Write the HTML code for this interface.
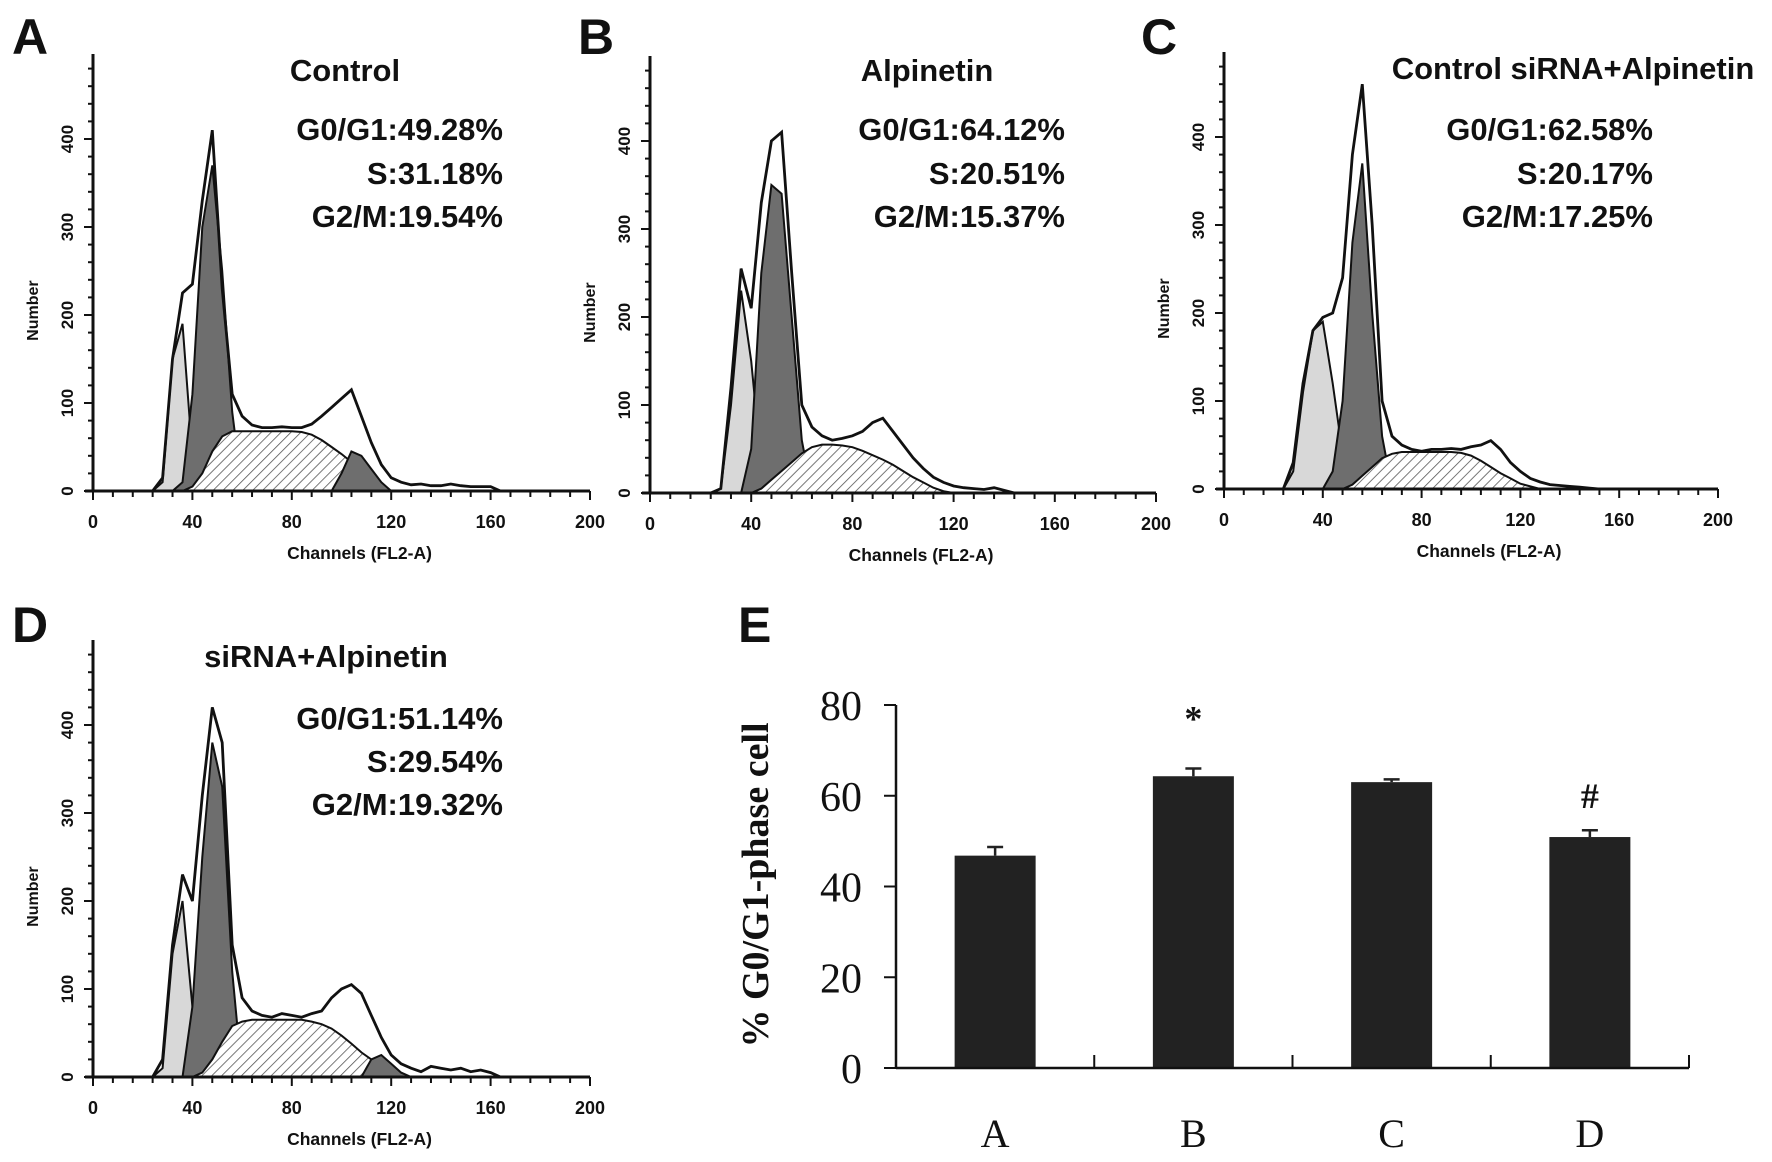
<!DOCTYPE html>
<html><head><meta charset="utf-8">
<style>
html,body{margin:0;padding:0;background:#fff;}
svg{display:block;}
.hb{font-family:"Liberation Sans",sans-serif;font-weight:bold;fill:#111;}
.sf{font-family:"Liberation Serif",serif;fill:#111;}
</style></head>
<body>
<svg id="fig" width="1772" height="1162" viewBox="0 0 1772 1162" xmlns="http://www.w3.org/2000/svg">
<defs>
<pattern id="hatch" patternUnits="userSpaceOnUse" width="7" height="7" patternTransform="rotate(45)">
<rect width="7" height="7" fill="#fff"/><line x1="0" y1="0" x2="0" y2="7" stroke="#555" stroke-width="1.6"/>
</pattern>
</defs>
</svg>
<script>
// ---------- histogram data (channels 20..168 step 4) ----------
const channels = [];
for (let c = 20; c <= 168; c += 4) channels.push(c);
const xTicks = [0, 40, 80, 120, 160, 200];
const yTicks = [0, 100, 200, 300, 400];

const outlineA = [0,0,15,150,225,235,330,410,230,110,85,75,72,72,73,72,72,76,85,95,105,115,85,55,30,15,10,7,8,6,6,8,6,5,5,5,0,0];
const subA = [0,0,10,150,190,40,0,0,0,0,0,0,0,0,0,0,0,0,0,0,0,0,0,0,0,0,0,0,0,0,0,0,0,0,0,0,0,0];
const g1A = [0,0,0,0,10,110,300,370,250,90,0,0,0,0,0,0,0,0,0,0,0,0,0,0,0,0,0,0,0,0,0,0,0,0,0,0,0,0];
const sA = [0,0,0,0,0,5,20,45,62,68,68,68,68,68,68,68,67,64,58,50,42,33,24,15,7,0,0,0,0,0,0,0,0,0,0,0,0,0];
const g2A = [0,0,0,0,0,0,0,0,0,0,0,0,0,0,0,0,0,0,0,0,20,45,40,25,10,0,0,0,0,0,0,0,0,0,0,0,0,0];

const outlineB = [0,0,5,120,255,210,330,400,410,250,100,75,65,60,62,65,70,80,85,70,55,40,28,18,12,8,6,5,4,6,3,0,0,0,0,0,0,0];
const subB = [0,0,5,100,230,150,30,0,0,0,0,0,0,0,0,0,0,0,0,0,0,0,0,0,0,0,0,0,0,0,0,0,0,0,0,0,0,0];
const g1B = [0,0,0,0,0,50,250,350,340,200,60,0,0,0,0,0,0,0,0,0,0,0,0,0,0,0,0,0,0,0,0,0,0,0,0,0,0,0];
const sB = [0,0,0,0,0,0,5,15,25,35,45,52,55,55,54,52,48,43,38,32,25,18,12,6,2,0,0,0,0,0,0,0,0,0,0,0,0,0];
const g2B = [0,0,0,0,0,0,0,0,0,0,0,0,0,0,0,0,0,0,0,0,0,0,0,0,0,0,0,0,0,0,0,0,0,0,0,0,0,0];

const outlineC = [0,0,30,120,180,195,200,240,380,460,300,100,60,50,45,43,45,45,46,45,48,50,55,45,30,20,12,8,5,4,3,2,1,0,0,0,0,0];
const subC = [0,0,20,110,180,190,120,40,5,0,0,0,0,0,0,0,0,0,0,0,0,0,0,0,0,0,0,0,0,0,0,0,0,0,0,0,0,0];
const g1C = [0,0,0,0,0,0,20,100,280,370,200,60,0,0,0,0,0,0,0,0,0,0,0,0,0,0,0,0,0,0,0,0,0,0,0,0,0,0];
const sC = [0,0,0,0,0,0,0,0,5,15,25,35,40,42,42,42,42,42,42,41,38,32,25,18,12,6,3,0,0,0,0,0,0,0,0,0,0,0];
const g2C = [0,0,0,0,0,0,0,0,0,0,0,0,0,0,0,0,0,0,0,0,0,0,0,0,0,0,0,0,0,0,0,0,0,0,0,0,0,0];

const outlineD = [0,0,20,150,230,200,320,420,380,150,90,75,70,68,72,70,68,72,75,90,100,105,95,70,45,25,15,10,6,12,10,8,10,6,8,5,0,0];
const subD = [0,0,10,140,200,80,10,0,0,0,0,0,0,0,0,0,0,0,0,0,0,0,0,0,0,0,0,0,0,0,0,0,0,0,0,0,0,0];
const g1D = [0,0,0,0,0,80,250,380,330,120,0,0,0,0,0,0,0,0,0,0,0,0,0,0,0,0,0,0,0,0,0,0,0,0,0,0,0,0];
const sD = [0,0,0,0,0,0,5,20,40,58,63,65,65,65,65,65,65,63,60,55,47,38,28,20,12,6,2,0,0,0,0,0,0,0,0,0,0,0];
const g2D = [0,0,0,0,0,0,0,0,0,0,0,0,0,0,0,0,0,0,0,0,0,0,0,20,25,15,5,0,0,0,0,0,0,0,0,0,0,0];

const panelTitles = ["Control", "Alpinetin", "Control siRNA+Alpinetin", "siRNA+Alpinetin"];
const panelG1 = ["G0/G1:49.28%", "G0/G1:64.12%", "G0/G1:62.58%", "G0/G1:51.14%"];
const panelS = ["S:31.18%", "S:20.51%", "S:20.17%", "S:29.54%"];
const panelG2 = ["G2/M:19.54%", "G2/M:15.37%", "G2/M:17.25%", "G2/M:19.32%"];

// ---------- bar chart data ----------
const barCats = ["A", "B", "C", "D"];
const barVals = [46.8, 64.3, 63.0, 50.9];
const barErr = [1.9, 1.7, 0.6, 1.5];
const barMarks = ["", "*", "", "#"];
const barTicks = [0, 20, 40, 60, 80];

const NS = "http://www.w3.org/2000/svg";
const svg = document.getElementById("fig");
function mk(tag, attrs, parent) {
  const e = document.createElementNS(NS, tag);
  for (const k in attrs) e.setAttribute(k, attrs[k]);
  (parent || svg).appendChild(e);
  return e;
}

const panels = [
  {id:"a", letter:"A", lx:12, ly:54, ox:93, oy:491, x200:590, top:54, tx:345, ty:81, sx:503, sy:[140,184,227], data:[outlineA,subA,g1A,sA,g2A]},
  {id:"b", letter:"B", lx:578, ly:54, ox:650, oy:493, x200:1156, top:56, tx:927, ty:81, sx:1065, sy:[140,184,227], data:[outlineB,subB,g1B,sB,g2B]},
  {id:"c", letter:"C", lx:1141, ly:54, ox:1224, oy:489, x200:1718, top:52, tx:1573, ty:79, sx:1653, sy:[140,184,227], data:[outlineC,subC,g1C,sC,g2C]},
  {id:"d", letter:"D", lx:12, ly:642, ox:93, oy:1077, x200:590, top:640, tx:326, ty:667, sx:503, sy:[729,772,815], data:[outlineD,subD,g1D,sD,g2D]}
];

panels.forEach((p, pi) => {
  const g = mk("g", {});
  
  
  const kx = (p.x200 - p.ox) / 200;
  const ky = 0.88;
  const X = c => p.ox + c * kx;
  const Y = v => p.oy - v * ky;
  function area(arr, fill, name) {
    let d = "M" + X(channels[0]) + "," + Y(0);
    arr.forEach((v, i) => { d += " L" + X(channels[i]).toFixed(1) + "," + Y(v).toFixed(1); });
    d += " L" + X(channels[channels.length-1]) + "," + Y(0) + " Z";
    const e = mk("path", {d:d, fill:fill, stroke:"#111", "stroke-width":"2"}, g);
    
    
  }
  area(p.data[0], "#fff", "total-histogram");
  area(p.data[1], "#d8d8d8", "sub-g1-peak");
  area(p.data[2], "#6e6e6e", "g0-g1-peak");
  area(p.data[3], "url(#hatch)", "s-phase-area");
  if (p.data[4].some(v => v > 0)) area(p.data[4], "#6e6e6e", "g2-m-peak");
  let d = "";
  p.data[0].forEach((v, i) => { d += (i ? " L" : "M") + X(channels[i]).toFixed(1) + "," + Y(v).toFixed(1); });
  d += " L" + X(200) + "," + Y(0);
  const ol = mk("path", {d:d, fill:"none", stroke:"#111", "stroke-width":"2.8"}, g);
  
  

  const ya = mk("line", {x1:p.ox, y1:p.top, x2:p.ox, y2:p.oy, stroke:"#111", "stroke-width":"3"}, g);
  
  
  const xa = mk("line", {x1:p.ox-8, y1:p.oy, x2:X(200), y2:p.oy, stroke:"#111", "stroke-width":"3"}, g);
  
  
  for (let v = 0; v <= 490; v += 20) {
    const major = yTicks.includes(v);
    mk("line", {x1:p.ox - (major ? 9 : 5), y1:Y(v), x2:p.ox, y2:Y(v), stroke:"#111", "stroke-width":"2"}, g);
  }
  for (let c = 0; c <= 200; c += 8) {
    const major = xTicks.includes(c);
    mk("line", {x1:X(c), y1:p.oy, x2:X(c), y2:p.oy + (major ? 9 : 6), stroke:"#111", "stroke-width":"2"}, g);
  }
  xTicks.forEach(c => {
    const t = mk("text", {x:X(c), y:p.oy + 37, "text-anchor":"middle", "font-size":"18", class:"hb"}, g);
    t.textContent = c;
    
    
  });
  yTicks.forEach(v => {
    const t = mk("text", {x:0, y:0, "text-anchor":"middle", "font-size":"17", class:"hb", transform:"translate(" + (p.ox-20) + "," + Y(v) + ") rotate(-90)"}, g);
    t.textContent = v;
    
    
  });
  const xt = mk("text", {x:(p.ox + X(200))/2 + 18, y:p.oy + 68, "text-anchor":"middle", "font-size":"17.5", class:"hb"}, g);
  xt.textContent = "Channels (FL2-A)";
  
  
  const yt = mk("text", {x:0, y:0, "text-anchor":"middle", "font-size":"16", class:"hb", transform:"translate(" + (p.ox-55) + "," + Y(205) + ") rotate(-90)"}, g);
  yt.textContent = "Number";
  
  

  const L = mk("text", {x:p.lx, y:p.ly, "font-size":"50", class:"hb"}, g);
  L.textContent = p.letter;
  
  
  const T = mk("text", {x:p.tx, y:p.ty, "text-anchor":"middle", "font-size":"31", class:"hb"}, g);
  T.textContent = panelTitles[pi];
  
  
  [panelG1[pi], panelS[pi], panelG2[pi]].forEach((s, k) => {
    const st = mk("text", {x:p.sx, y:p.sy[k], "text-anchor":"end", "font-size":"31", class:"hb"}, g);
    st.textContent = s;
    
    
  });
});

// ---------- panel E bar chart ----------
(function(){
  const g = mk("g", {});
  
  
  const ox = 896, oy = 1068, xEnd = 1689, k = (1068 - 705) / 80;
  const Y = v => oy - v * k;
  const step = (xEnd - ox) / barCats.length;
  const cx = i => ox + step * (i + 0.5);
  const bw = 81;
  const L = mk("text", {x:738, y:642, "font-size":"50", class:"hb"}, g);
  L.textContent = "E";
  
  

  barVals.forEach((v, i) => {
    const r = mk("rect", {x:cx(i) - bw/2, y:Y(v), width:bw, height:Y(0) - Y(v), fill:"#222"}, g);
    
    
    const e = mk("path", {d:"M" + cx(i) + "," + Y(v) + " V" + Y(v + barErr[i]) + " M" + (cx(i)-8) + "," + Y(v + barErr[i]) + " H" + (cx(i)+8), stroke:"#222", "stroke-width":"2.5", fill:"none"}, g);
    
    
    if (barMarks[i]) {
      const m = mk("text", {x:cx(i), y:Y(v + barErr[i]) - (barMarks[i] === "*" ? 38 : 22), "text-anchor":"middle", "font-size":"36", class:"sf", "font-weight":"bold"}, g);
      m.textContent = barMarks[i];
      
      
    }
    const c = mk("text", {x:cx(i), y:1147, "text-anchor":"middle", "font-size":"40", class:"sf"}, g);
    c.textContent = barCats[i];
    
    
    mk("line", {x1:ox + step*(i+1), y1:oy, x2:ox + step*(i+1), y2:oy - 13, stroke:"#111", "stroke-width":"2"}, g);
  });
  const ya = mk("line", {x1:ox, y1:Y(80), x2:ox, y2:oy, stroke:"#111", "stroke-width":"2.5"}, g);
  
  
  const xa = mk("line", {x1:ox, y1:oy, x2:xEnd, y2:oy, stroke:"#111", "stroke-width":"2.5"}, g);
  
  
  barTicks.forEach(v => {
    mk("line", {x1:ox - 12, y1:Y(v), x2:ox, y2:Y(v), stroke:"#111", "stroke-width":"2"}, g);
    const t = mk("text", {x:862, y:Y(v) + 15, "text-anchor":"end", "font-size":"42", class:"sf"}, g);
    t.textContent = v;
    
    
  });
  const yt = mk("text", {x:0, y:0, "text-anchor":"middle", "font-size":"38", class:"sf", "font-weight":"bold", transform:"translate(768,885) rotate(-90)"}, g);
  yt.textContent = "% G0/G1-phase cell";
  
  
})();
</script>
</body></html>
